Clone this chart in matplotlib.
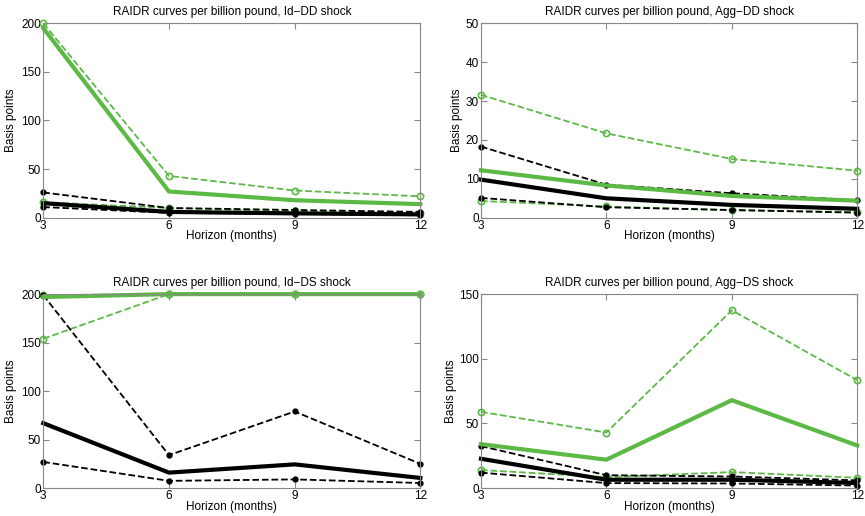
import matplotlib
matplotlib.use("Agg")
import matplotlib.pyplot as plt

plt.rcParams['font.family'] = ['Liberation Sans', 'DejaVu Sans']

horizon = [3, 6, 9, 12]
green = '#5cb946'

# Id-DD shock
iddd_green = [195, 27, 18, 14]
iddd_green_hi = [200, 43, 28, 22]
iddd_green_lo = [16, 10, 7, 5]
iddd_black = [15, 6, 4.5, 3.5]
iddd_black_hi = [26, 10, 8, 6]
iddd_black_lo = [11, 5, 4, 2.5]

# Agg-DD shock
aggdd_green = [12.2, 8.3, 5.6, 4.4]
aggdd_green_hi = [31.6, 21.7, 15.1, 12.1]
aggdd_green_lo = [4.3, 2.9, 1.9, 1.5]
aggdd_black = [9.8, 5.0, 3.3, 2.3]
aggdd_black_hi = [18.3, 8.5, 6.3, 4.5]
aggdd_black_lo = [5.1, 2.7, 2.0, 1.3]

# Id-DS shock
idds_green = [197, 200, 200, 200]
idds_green_hi = [199, 200, 200, 200]
idds_green_lo = [154, 200, 200, 200]
idds_black = [67, 16, 24.5, 10.5]
idds_black_hi = [199, 34, 79, 25]
idds_black_lo = [27, 7.5, 9, 5.3]

# Agg-DS shock
aggds_green = [34, 22, 68, 33]
aggds_green_hi = [59, 43, 137.5, 83.5]
aggds_green_lo = [14, 8.5, 12.4, 8]
aggds_black = [22.7, 6.5, 6.5, 4]
aggds_black_hi = [32.5, 10, 9, 6]
aggds_black_lo = [12, 3.9, 3.6, 2]

panels = [
    ('Id\u2212DD', 200, [0, 50, 100, 150, 200], iddd_green, iddd_green_hi, iddd_green_lo,
     iddd_black, iddd_black_hi, iddd_black_lo),
    ('Agg\u2212DD', 50, [0, 10, 20, 30, 40, 50], aggdd_green, aggdd_green_hi, aggdd_green_lo,
     aggdd_black, aggdd_black_hi, aggdd_black_lo),
    ('Id\u2212DS', 200, [0, 50, 100, 150, 200], idds_green, idds_green_hi, idds_green_lo,
     idds_black, idds_black_hi, idds_black_lo),
    ('Agg\u2212DS', 150, [0, 50, 100, 150], aggds_green, aggds_green_hi, aggds_green_lo,
     aggds_black, aggds_black_hi, aggds_black_lo),
]

rects = [
    [0.050, 0.578, 0.436, 0.377],
    [0.556, 0.578, 0.435, 0.377],
    [0.050, 0.054, 0.436, 0.376],
    [0.556, 0.054, 0.435, 0.376],
]
ylab_x = [-0.069, -0.048, -0.069, -0.064]

fig = plt.figure(figsize=(8.65, 5.16), dpi=100)

for rect, yx, (name, ymax, yticks, g, ghi, glo, b, bhi, blo) in zip(rects, ylab_x, panels):
    ax = fig.add_axes(rect)
    ax.plot(horizon, ghi, '--', color=green, lw=1.3, marker='o', ms=4.5,
            mfc='none', mec=green, mew=1.2, clip_on=False)
    ax.plot(horizon, glo, '--', color=green, lw=1.3, marker='o', ms=4.5,
            mfc='none', mec=green, mew=1.2, clip_on=False)
    ax.plot(horizon, bhi, '--', color='black', lw=1.3, marker='o', ms=3.5,
            clip_on=False)
    ax.plot(horizon, blo, '--', color='black', lw=1.3, marker='o', ms=3.5,
            clip_on=False)
    ax.plot(horizon, g, '-', color=green, lw=3, clip_on=False)
    ax.plot(horizon, b, '-', color='black', lw=3, clip_on=False)
    ax.set_xlim(3, 12)
    ax.set_ylim(0, ymax)
    ax.set_xticks(horizon)
    ax.set_yticks(yticks)
    ax.tick_params(direction='in', top=True, right=True, labelsize=8.5,
                   length=4, color='#888888', pad=1.5)
    for s in ax.spines.values():
        s.set_color('#888888')
        s.set_linewidth(0.8)
    ax.set_title('RAIDR curves per billion pound, ' + name + ' shock',
                 fontsize=8.5, pad=6)
    ax.set_xlabel('Horizon (months)', fontsize=8.5)
    ax.set_ylabel('Basis points', fontsize=8.5)
    ax.xaxis.set_label_coords(0.5, -0.064)
    ax.yaxis.set_label_coords(yx, 0.5)

fig.savefig('out.png', dpi=100)
